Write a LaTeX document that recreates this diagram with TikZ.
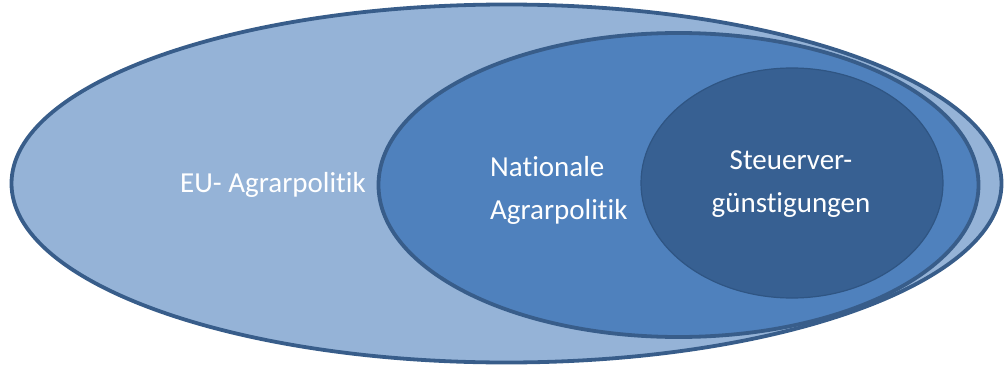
\documentclass[tikz,border=0pt]{standalone}
\usepackage{fontspec}
\setmainfont{Carlito}[Ligatures=NoCommon]
\definecolor{outerfill}{HTML}{95B3D7}
\definecolor{midfill}{HTML}{4F81BD}
\definecolor{innerfill}{HTML}{376092}
\definecolor{rimcol}{HTML}{385D8A}
\definecolor{innerrim}{HTML}{2F5583}
\tikzset{
  blob/.style={draw=rimcol, line width=3.8pt},
  lbl/.style={text=white, font=\fontsize{29}{43}\selectfont, inner sep=0pt}
}
\begin{document}
\begin{tikzpicture}[x=1pt,y=-1pt]
\useasboundingbox (0,0) rectangle (1005,367);
\path[blob, fill=outerfill] (506.5,183.5) ellipse [x radius=495, y radius=179];
\path[blob, fill=midfill] (678.5,185) ellipse [x radius=300, y radius=152];
\path[draw=innerrim, line width=1.2pt, fill=innerfill] (792,183) ellipse [x radius=151, y radius=115];
\node[lbl, anchor=base west] (eu) at (180,192.7) {EU- Agrarpolitik};
\node[lbl, anchor=base west, align=left] (nat) at (490,219.5) {Nationale\\Agrarpolitik};
\node[lbl, anchor=base, align=center] (st) at (791,212) {Steuerver-\\günstigungen};
\end{tikzpicture}
\end{document}
